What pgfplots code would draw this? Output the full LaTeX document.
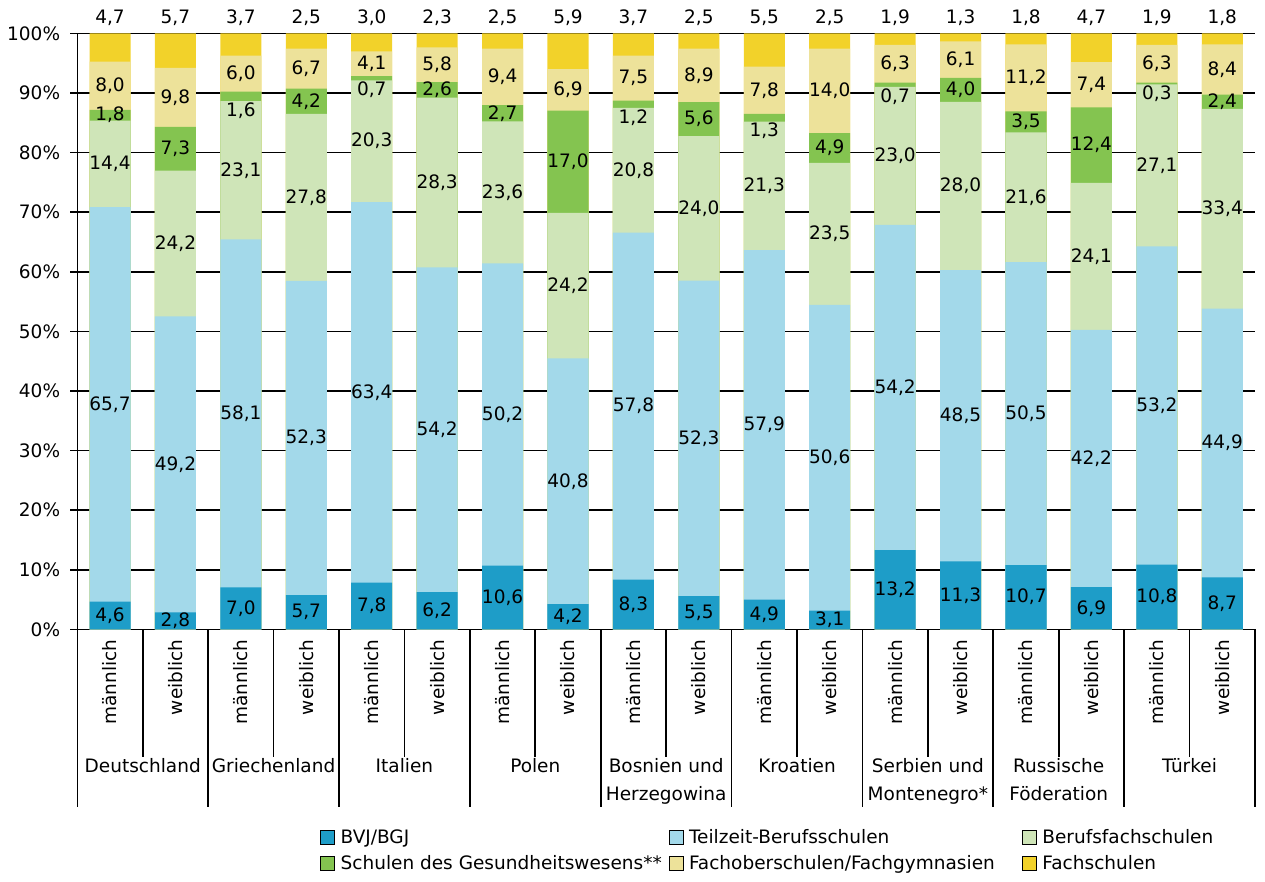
\documentclass[border=0pt]{standalone}
\usepackage{fontspec}
\setmainfont{DejaVu Sans}
\usepackage{pgfplots}
\usepackage{pgfplotstable}
\pgfplotsset{compat=1.18}

\definecolor{cA}{HTML}{1E9DC8}
\definecolor{cB}{HTML}{A3D9EA}
\definecolor{cC}{HTML}{CFE5B8}
\definecolor{cD}{HTML}{84C450}
\definecolor{cE}{HTML}{EDE29A}
\definecolor{cF}{HTML}{F2D22A}

% a = BVJ/BGJ, b = Teilzeit-Berufsschulen, c = Berufsfachschulen,
% d = Schulen des Gesundheitswesens, e = Fachoberschulen/Fachgymnasien, f = Fachschulen
\pgfplotstableread{
x a b c d e f
0 4.6 65.7 14.4 1.8 8.0 4.7
1 2.8 49.2 24.2 7.3 9.8 5.7
2 7.0 58.1 23.1 1.6 6.0 3.7
3 5.7 52.3 27.8 4.2 6.7 2.5
4 7.8 63.4 20.3 0.7 4.1 3.0
5 6.2 54.2 28.3 2.6 5.8 2.3
6 10.6 50.2 23.6 2.7 9.4 2.5
7 4.2 40.8 24.2 17.0 6.9 5.9
8 8.3 57.8 20.8 1.2 7.5 3.7
9 5.5 52.3 24.0 5.6 8.9 2.5
10 4.9 57.9 21.3 1.3 7.8 5.5
11 3.1 50.6 23.5 4.9 14.0 2.5
12 13.2 54.2 23.0 0.7 6.3 1.9
13 11.3 48.5 28.0 4.0 6.1 1.3
14 10.7 50.5 21.6 3.5 11.2 1.8
15 6.9 42.2 24.1 12.4 7.4 4.7
16 10.8 53.2 27.1 0.3 6.3 1.9
17 8.7 44.9 33.4 2.4 8.4 1.8
}\data

\newcommand{\tot}{(\thisrow{a}+\thisrow{b}+\thisrow{c}+\thisrow{d}+\thisrow{e}+\thisrow{f})}

\pgfplotsset{
  segbar/.style={ybar, bar width=0.627, bar shift=0pt, draw=none, forget plot},
  lbl/.style={draw=none, mark=none, forget plot, point meta=explicit,
    nodes near coords={\pgfmathprintnumber[fixed,fixed zerofill,precision=1,use comma]{\pgfplotspointmeta}},
    every node near coord/.append style={anchor=center, inner sep=0pt, text=black}},
}

\begin{document}
\fontsize{18.5}{22}\selectfont
\begin{tikzpicture}
\path[use as bounding box] (0pt,0pt) rectangle (1265pt,881pt);
\begin{axis}[
  at={(77.3pt,251.7pt)}, anchor=south west,
  scale only axis, width=1177.7pt, height=595.8pt,
  xmin=-0.5, xmax=17.5, ymin=0, ymax=100,
  clip=false,
  axis lines*=left,
  axis line style={line width=1.6pt, black},
  ytick={0,10,...,100},
  yticklabel={\pgfmathprintnumber{\tick}\%},
  /pgf/number format/assume math mode=true,
  ymajorgrids, grid style={line width=1.6pt, black},
  tick align=outside, major tick length=7pt,
  ytick style={line width=1.6pt, black},
  yticklabel style={inner sep=0pt, xshift=-10pt},
  xtick={0,...,17},
  xticklabels={männlich,weiblich,männlich,weiblich,männlich,weiblich,männlich,weiblich,männlich,weiblich,männlich,weiblich,männlich,weiblich,männlich,weiblich,männlich,weiblich},
  x tick style={draw=none},
  xticklabel style={rotate=90, anchor=east, inner sep=0pt},
  xticklabel shift=3pt,
  legend columns=3,
  legend cell align=left,
  legend image code/.code={\fill[#1] (0pt,-7pt) rectangle (14pt,7pt);},
  legend style={at={(0.2061,-0.3335)}, anchor=north west, draw=none, fill=none,
    inner sep=0pt, row sep=7pt,
    nodes={inner sep=1pt},
    /tikz/every odd column/.append style={column sep=5pt}},
]
\addlegendimage{fill=cA}
\addlegendentry{\makebox[327pt][l]{BVJ/BGJ}}
\addlegendimage{fill=cB}
\addlegendentry{\makebox[332pt][l]{Teilzeit-Berufsschulen}}
\addlegendimage{fill=cC}
\addlegendentry{Berufsfachschulen}
\addlegendimage{fill=cD}
\addlegendentry{\makebox[327pt][l]{Schulen des Gesundheitswesens**}}
\addlegendimage{fill=cE}
\addlegendentry{\makebox[332pt][l]{Fachoberschulen/Fachgymnasien}}
\addlegendimage{fill=cF}
\addlegendentry{Fachschulen}

% bars, drawn from the top of the stack downwards (cumulative shares)
\addplot[segbar, fill=cF] table[x=x, y expr={\tot*100/\tot}] \data;
\addplot[segbar, fill=cE] table[x=x, y expr={(\thisrow{a}+\thisrow{b}+\thisrow{c}+\thisrow{d}+\thisrow{e})*100/\tot}] \data;
\addplot[segbar, fill=cD] table[x=x, y expr={(\thisrow{a}+\thisrow{b}+\thisrow{c}+\thisrow{d})*100/\tot}] \data;
\addplot[segbar, fill=cC] table[x=x, y expr={(\thisrow{a}+\thisrow{b}+\thisrow{c})*100/\tot}] \data;
\addplot[segbar, fill=cB] table[x=x, y expr={(\thisrow{a}+\thisrow{b})*100/\tot}] \data;
\addplot[segbar, fill=cA] table[x=x, y expr={\thisrow{a}*100/\tot}] \data;

% value labels
\addplot[lbl] table[x=x, y expr={0.5*\thisrow{a}*100/\tot}, meta=a] \data;
\addplot[lbl] table[x=x, y expr={(\thisrow{a}+0.5*\thisrow{b})*100/\tot}, meta=b] \data;
\addplot[lbl] table[x=x, y expr={(\thisrow{a}+\thisrow{b}+0.5*\thisrow{c})*100/\tot}, meta=c] \data;
\addplot[lbl] table[x=x, y expr={ifthenelse(\thisrow{d}<1.7,(\thisrow{a}+\thisrow{b}+\thisrow{c})*100/\tot-1.6,(\thisrow{a}+\thisrow{b}+\thisrow{c}+0.5*\thisrow{d})*100/\tot)}, meta=d] \data;
\addplot[lbl] table[x=x, y expr={(\thisrow{a}+\thisrow{b}+\thisrow{c}+\thisrow{d}+0.5*\thisrow{e})*100/\tot}, meta=e] \data;
\addplot[lbl] table[x=x, y expr={102.6}, meta=f] \data;

% category separators
\pgfplotsinvokeforeach{-0.5,1.5,3.5,5.5,7.5,9.5,11.5,13.5,15.5,17.5}{
  \draw[line width=1.6pt, black] (axis cs:#1,0) -- ++(0pt,-178pt);
}
\pgfplotsinvokeforeach{0.5,2.5,4.5,6.5,8.5,10.5,12.5,14.5,16.5}{
  \draw[line width=1.6pt, black] (axis cs:#1,0) -- ++(0pt,-128pt);
}
% group names
\path (axis cs:0.5,0) ++(0pt,-143pt) node[anchor=base]{Deutschland};
\path (axis cs:2.5,0) ++(0pt,-143pt) node[anchor=base]{Griechenland};
\path (axis cs:4.5,0) ++(0pt,-143pt) node[anchor=base]{Italien};
\path (axis cs:6.5,0) ++(0pt,-143pt) node[anchor=base]{Polen};
\path (axis cs:8.5,0) ++(0pt,-143pt) node[anchor=base]{Bosnien und};
\path (axis cs:8.5,0) ++(0pt,-171pt) node[anchor=base]{Herzegowina};
\path (axis cs:10.5,0) ++(0pt,-143pt) node[anchor=base]{Kroatien};
\path (axis cs:12.5,0) ++(0pt,-143pt) node[anchor=base]{Serbien und};
\path (axis cs:12.5,0) ++(0pt,-171pt) node[anchor=base]{Montenegro*};
\path (axis cs:14.5,0) ++(0pt,-143pt) node[anchor=base]{Russische};
\path (axis cs:14.5,0) ++(0pt,-171pt) node[anchor=base]{Föderation};
\path (axis cs:16.5,0) ++(0pt,-143pt) node[anchor=base]{Türkei};
\end{axis}
\end{tikzpicture}
\end{document}
